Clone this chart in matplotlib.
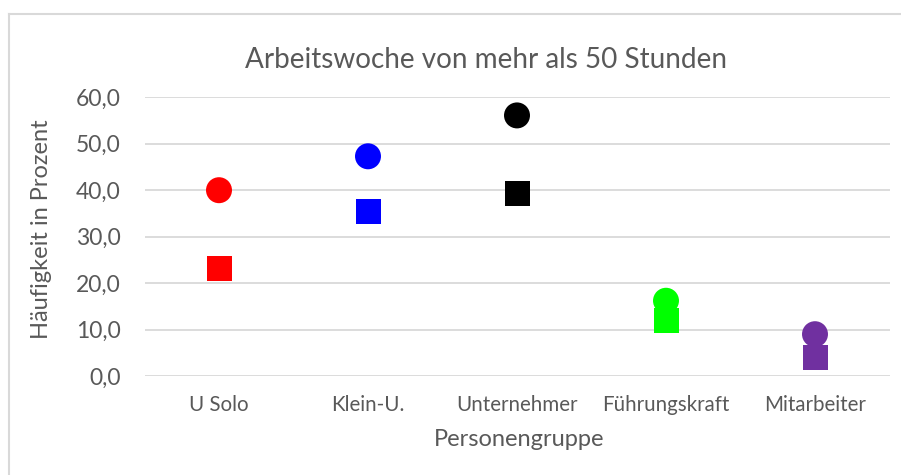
import matplotlib.pyplot as plt
from matplotlib.lines import Line2D

# data
gruppen = ["U Solo", "Klein-U.", "Unternehmer", "Führungskraft", "Mitarbeiter"]
werte_kreis = [40.0, 47.3, 56.1, 16.2, 9.0]
werte_quadrat = [23.2, 35.4, 39.2, 11.9, 3.9]
farben = ["#FF0000", "#0000FF", "#000000", "#00FF00", "#7030A0"]
y_ticks = [0, 10, 20, 30, 40, 50, 60]

grau = "#595959"
plt.rcParams['font.family'] = ['Lato', 'DejaVu Sans']

fig = plt.figure(figsize=(9.01, 4.75), dpi=100)
ax = fig.add_axes([144.5/901, 99/475, 745/901, 278.7/475])

x = list(range(len(gruppen)))
ax.scatter(x, werte_kreis, s=18.7**2, marker='o', c=farben, linewidths=0, zorder=3)
ax.scatter(x, werte_quadrat, s=18**2, marker='s', c=farben, linewidths=0, zorder=4)

ax.set_xlim(-0.5, len(gruppen) - 0.5)
ax.set_ylim(0, 60)
ax.set_yticks(y_ticks)
ax.set_yticklabels([f"{v:.1f}".replace(".", ",") for v in y_ticks])
ax.set_xticks(x)
ax.set_xticklabels(gruppen)
ax.tick_params(axis='y', length=0, pad=17, labelsize=16.5, labelcolor=grau)
ax.tick_params(axis='x', length=0, pad=14, labelsize=14.8, labelcolor=grau)
ax.grid(axis='y', color='#D9D9D9', lw=1.3)
ax.set_axisbelow(True)
for s in ax.spines.values():
    s.set_visible(False)

fig.text(486/901, 1 - 60/475, "Arbeitswoche von mehr als 50 Stunden", ha='center', va='center',
         fontsize=20.1, color=grau)
fig.text(42/901, 1 - 229/475, "Häufigkeit in Prozent", ha='center', va='center',
         rotation=90, fontsize=17, color=grau)
fig.text(519/901, 1 - 440/475, "Personengruppe", ha='center', va='center',
         fontsize=17, color=grau)

# chart border (only left and top are visible in the crop)
fig.add_artist(Line2D([9/901, 9/901], [0, 1 - 14/475], color='#D9D9D9', lw=1.5))
fig.add_artist(Line2D([9/901, 1], [1 - 14/475, 1 - 14/475], color='#D9D9D9', lw=1.5))

fig.savefig("out.png", dpi=100)
